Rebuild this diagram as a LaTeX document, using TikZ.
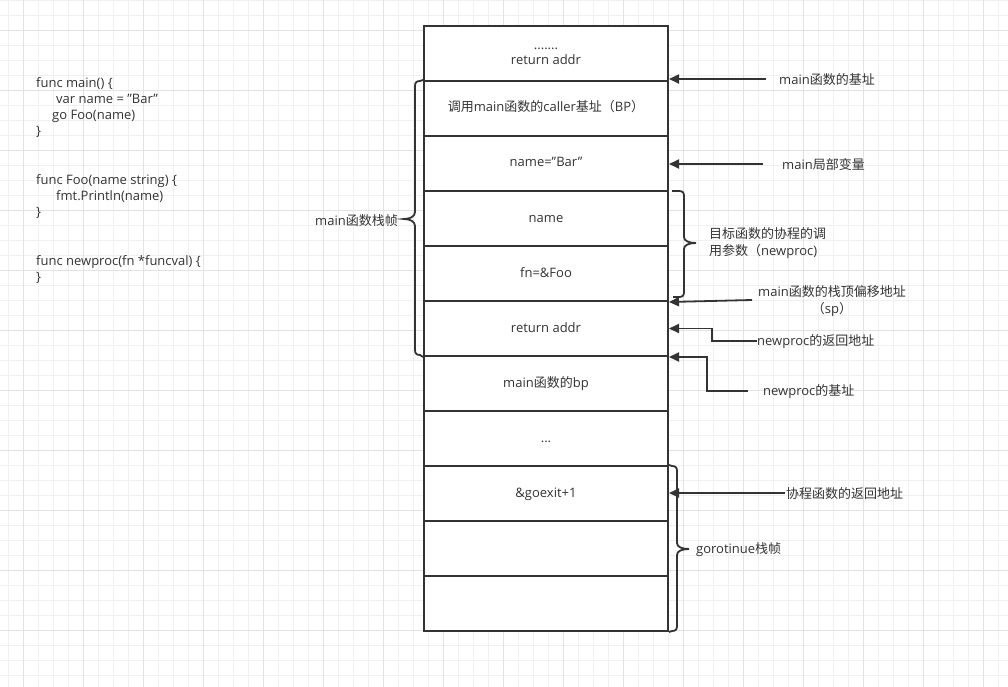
\documentclass[tikz,border=0pt]{standalone}
\usepackage{fontspec}
\setmainfont{Open Sans}
\newfontfamily\cjkfont{Noto Sans CJK SC}
\newcommand\zh[1]{{\cjkfont #1}}
\newcommand\dq{\symbol{34}}
\usetikzlibrary{arrows.meta,calc}
\definecolor{ink}{HTML}{333333}
\definecolor{gridminor}{HTML}{F0F0F0}
\definecolor{gridmajor}{HTML}{E2E2E2}
\begin{document}
\begin{tikzpicture}[x=1pt,y=-1pt,
  cell/.style={draw=ink,line width=2pt,fill=white,minimum width=244pt,minimum height=55pt,inner sep=0pt,text=ink,font=\fontsize{13}{15}\selectfont,align=center,text height=10pt,text depth=3pt},
  lbl/.style={text=ink,font=\fontsize{13}{17}\selectfont,inner sep=0pt,align=left},
  code/.style={text=ink,font=\fontsize{13}{16}\selectfont,inner sep=0pt,align=left,anchor=north west},
  arr/.style={draw=ink,line width=1.8pt,-{Triangle[length=10pt,width=9pt]}},
  bracepath/.style={draw=ink,line width=1.8pt}
]
\useasboundingbox (0,0) rectangle (1008,687);
\fill[white] (0,0) rectangle (1008,687);
% grid
\foreach \i in {0,...,67} {\draw[gridminor,line width=0.8pt] ({8.33+15*\i},0) -- ({8.33+15*\i},687);}
\foreach \j in {0,...,45} {\draw[gridminor,line width=0.8pt] (0,{15*\j}) -- (1008,{15*\j});}
\foreach \i in {0,...,16} {\draw[gridmajor,line width=0.8pt] ({23.33+60*\i},0) -- ({23.33+60*\i},687);}
\foreach \j in {0,...,11} {\draw[gridmajor,line width=0.8pt] (0,{30+60*\j}) -- (1008,{30+60*\j});}

% code
\node[code] (c1) at (36,77) {func main() \{\\
\hspace*{20pt}var name = \dq Bar\dq\\
\hspace*{16pt}go Foo(name)\\
\}};
\node[code] (c2) at (36,174) {func Foo(name string) \{\\
\hspace*{20pt}fmt.Println(name)\\
\}};
\node[code] (c3) at (36,255) {func newproc(fn *funcval) \{\\
\}};

% stack
\node[cell] (r1) at (546,53.5) {};
\node[text=ink,font=\fontsize{13}{15}\selectfont,align=center,inner sep=0pt] (r1t) at (546,56) {.......\\return addr};
\node[cell] (r2) at (546,108.5) {\zh{调用}main\zh{函数的}caller\zh{基址（}BP\zh{）}};
\node[cell] (r3) at (546,163.5) {name=\dq Bar\dq};
\node[cell] (r4) at (546,218.5) {name};
\node[cell] (r5) at (546,273.5) {fn=\&Foo};
\node[cell] (r6) at (546,328.5) {return addr};
\node[cell] (r7) at (546,383.5) {main\zh{函数的}bp};
\node[cell] (r8) at (546,438.5) {...};
\node[cell] (r9) at (546,493.5) {\&goexit+1};
\node[cell] (r10) at (546,548.5) {};
\node[cell] (r11) at (546,603.5) {};

% left brace
\draw[bracepath] (r2.north west) -- (420,81) .. controls (416.5,81) and (415,82.5) .. (415,86)
  -- (415,212) .. controls (415,216.5) and (410,219) .. (404,219)
  .. controls (410,219) and (415,221.5) .. (415,226)
  -- (415,350) .. controls (415,353.5) and (416.5,355) .. (420,355) -- (r6.south west);
\node[lbl,anchor=east] (bl) at (398,220.5) {main\zh{函数栈帧}};

% right brace 1
\draw[bracepath] (672,191) -- (679,191) .. controls (682.5,191) and (684,192.5) .. (684,196)
  -- (684,237) .. controls (684,241) and (689,243) .. (696,243)
  .. controls (689,243) and (684,245) .. (684,249)
  -- (684,292) .. controls (684,295.5) and (682.5,297) .. (679,297) -- (673,297);
\node[lbl,anchor=west] (b1) at (709,243.5) {\zh{目标函数的协程的调}\\\zh{用参数（}newproc)};

% right brace 2
\draw[bracepath] (r9.north east) -- (672,466) .. controls (675.5,466) and (677,467.5) .. (677,471)
  -- (677,543) .. controls (677,547) and (682,549) .. (689,549)
  .. controls (682,549) and (677,551) .. (677,555)
  -- (677,626) .. controls (677,629.5) and (675.5,631) .. (672,631) -- (r11.south east);
\node[lbl,anchor=west] (b2) at (696,550) {gorotinue\zh{栈帧}};

% arrow labels
\node[lbl,anchor=west] (a1) at (779,80) {main\zh{函数的基址}};
\node[lbl,anchor=west] (a2) at (782,165) {main\zh{局部变量}};
\node[lbl,align=center] (a3) at (832,301.5) {main\zh{函数的栈顶偏移地址}\\\zh{（}sp\zh{）}};
\node[lbl,anchor=west] (a4) at (757,342) {newproc\zh{的返回地址}};
\node[lbl,anchor=west] (a5) at (763,392) {newproc\zh{的基址}};
\node[lbl,anchor=west] (a6) at (786,494) {\zh{协程函数的返回地址}};

\coordinate (s1) at (766,79);
\coordinate (s2) at (763,164);
\coordinate (s3) at (752,300);
\coordinate (s4) at (757,341);
\coordinate (s5) at (748,391);
\coordinate (s6) at (785,493);

\draw[arr] (s1) -- (s1 -| r1.east);
\draw[arr] (s2) -- (s2 -| r3.east);
\draw[arr] (s3) -- (r5.south east);
\draw[arr] (s4) -- (712,341) |- (r6.east);
\draw[arr] (s5) -- (707,391) |- (r6.south east);
\draw[arr] (s6) -- (s6 -| r9.east);
\end{tikzpicture}
\end{document}
